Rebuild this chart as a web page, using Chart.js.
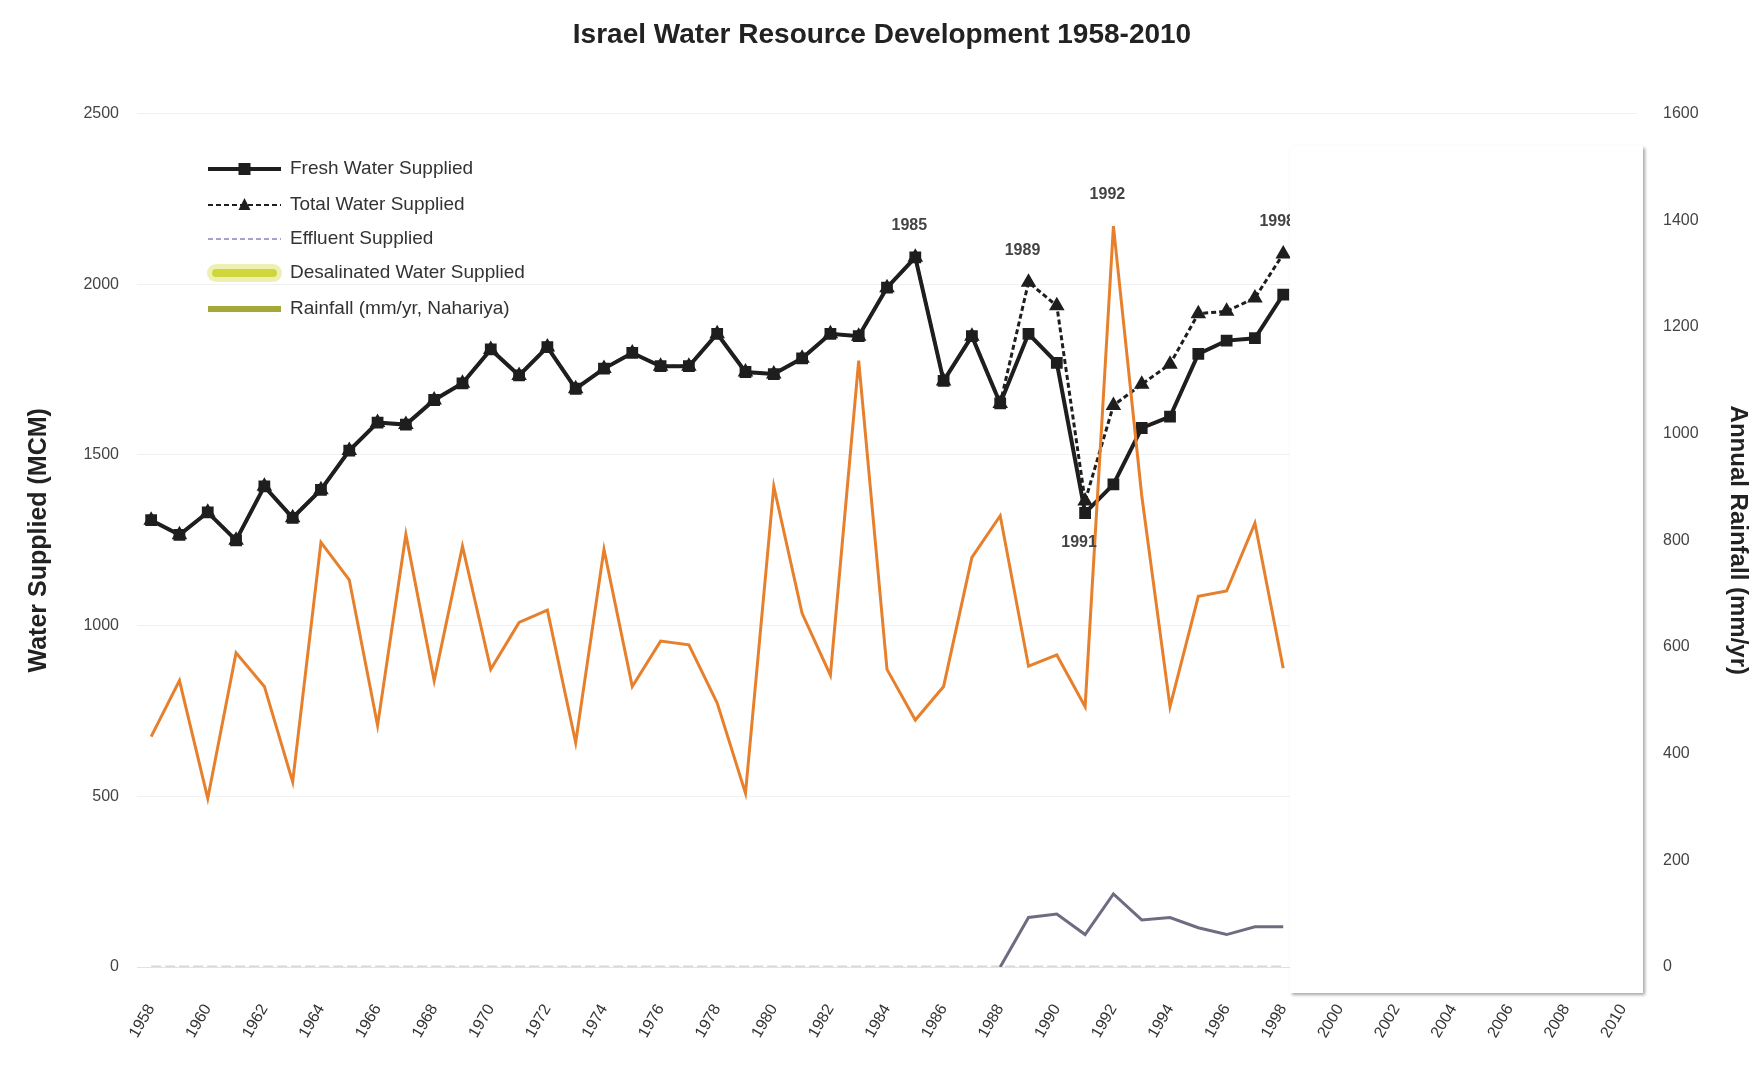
<!DOCTYPE html>
<html>
<head>
<meta charset="utf-8">
<script src="https://cdn.jsdelivr.net/npm/chart.js@4.4.1/dist/chart.umd.min.js"></script>
<style>
  html, body { margin: 0; padding: 0; background: #fff; }
  #wrap { position: relative; width: 1764px; height: 1068px; }
  /* blank box pasted over the right part of the original picture */
  #mask { position: absolute; left: 1290px; top: 146px; width: 353px; height: 847px;
          background: #fff; box-shadow: 2px 2px 3px rgba(0,0,0,0.35); }
</style>
</head>
<body>
<div id="wrap">
  <canvas id="chart" width="1764" height="1068"></canvas>
  <div id="mask"></div>
</div>
<script>
// categories
var years = [1958, 1959, 1960, 1961, 1962, 1963, 1964, 1965, 1966, 1967,
             1968, 1969, 1970, 1971, 1972, 1973, 1974, 1975, 1976, 1977,
             1978, 1979, 1980, 1981, 1982, 1983, 1984, 1985, 1986, 1987,
             1988, 1989, 1990, 1991, 1992, 1993, 1994, 1995, 1996, 1997,
             1998, 1999, 2000, 2001, 2002, 2003, 2004, 2005, 2006, 2007,
             2008, 2009, 2010];

// water supplied, MCM (left axis) - values after 1998 are hidden in the picture
var freshWater = [1309, 1266, 1332, 1250, 1408, 1316, 1398, 1513, 1595, 1589,
                  1661, 1710, 1809, 1733, 1816, 1694, 1753, 1799, 1760, 1760,
                  1855, 1743, 1737, 1783, 1855, 1848, 1990, 2079, 1717, 1848,
                  1651, 1855, 1770, 1330, 1414, 1579, 1612, 1796, 1835, 1842,
                  1970, null, null, null, null, null, null, null, null, null,
                  null, null, null];
var totalWater = [1309, 1266, 1332, 1250, 1408, 1316, 1398, 1513, 1595, 1589,
                  1661, 1710, 1809, 1733, 1816, 1694, 1753, 1799, 1760, 1760,
                  1855, 1743, 1737, 1783, 1855, 1848, 1990, 2079, 1717, 1848,
                  1651, 2006, 1937, 1365, 1645, 1707, 1766, 1914, 1921, 1960,
                  2089, null, null, null, null, null, null, null, null, null,
                  null, null, null];
var effluent = [null, null, null, null, null, null, null, null, null, null,
                null, null, null, null, null, null, null, null, null, null,
                null, null, null, null, null, null, null, null, null, null,
                0, 145, 155, 95, 214, 138, 145, 115, 95, 118,
                118, null, null, null, null, null, null, null, null, null,
                null, null, null];
var desalinated = [0, 0, 0, 0, 0, 0, 0, 0, 0, 0,
                   0, 0, 0, 0, 0, 0, 0, 0, 0, 0,
                   0, 0, 0, 0, 0, 0, 0, 0, 0, 0,
                   0, 0, 0, 0, 0, 0, 0, 0, 0, 0,
                   0, null, null, null, null, null, null, null, null, null,
                   null, null, null];
// rainfall, mm/yr (right axis)
var rainfall = [432, 537, 316, 589, 526, 347, 796, 726, 453, 811,
                537, 789, 558, 646, 669, 421, 783, 526, 611, 604,
                495, 326, 901, 663, 547, 1137, 558, 463, 526, 768,
                846, 564, 585, 488, 1389, 884, 488, 695, 705, 832,
                560, null, null, null, null, null, null, null, null, null,
                null, null, null];

var leftTicks = [0, 2500, 500];   // min, max, step
var rightTicks = [0, 1600, 200];

// year labels written next to some points: series, year, above/below
var callouts = [
  ['fresh', 1985, 'above'],
  ['total', 1989, 'above'],
  ['fresh', 1991, 'below'],
  ['rain', 1992, 'above'],
  ['total', 1998, 'above']
];

var FONT = "'Liberation Sans', Arial, sans-serif";

var legendPlugin = {
  id: 'insideLegend',
  afterDraw: function(chart) {
    var ctx = chart.ctx;
    var x0 = 208, len = 73, tx = 290;
    var rowsY = [169, 205, 239, 273, 309];
    chart.data.datasets.forEach(function(ds) {
      var y = rowsY[ds.legendRow];
      ctx.save();
      ctx.lineCap = 'butt';
      if (ds.key === 'fresh') {
        ctx.strokeStyle = '#1e1e1e'; ctx.lineWidth = 4;
        ctx.beginPath(); ctx.moveTo(x0, y); ctx.lineTo(x0 + len, y); ctx.stroke();
        ctx.fillStyle = '#1e1e1e'; ctx.fillRect(x0 + len / 2 - 6, y - 6, 12, 12);
      } else if (ds.key === 'total') {
        ctx.strokeStyle = '#1e1e1e'; ctx.lineWidth = 2; ctx.setLineDash([5, 3]);
        ctx.beginPath(); ctx.moveTo(x0, y); ctx.lineTo(x0 + len, y); ctx.stroke();
        ctx.setLineDash([]);
        ctx.fillStyle = '#1e1e1e';
        ctx.beginPath(); ctx.moveTo(x0 + len / 2, y - 7); ctx.lineTo(x0 + len / 2 + 6, y + 5);
        ctx.lineTo(x0 + len / 2 - 6, y + 5); ctx.closePath(); ctx.fill();
      } else if (ds.key === 'effluent') {
        ctx.strokeStyle = '#a7a2cc'; ctx.lineWidth = 2; ctx.setLineDash([5, 3]);
        ctx.beginPath(); ctx.moveTo(x0, y); ctx.lineTo(x0 + len, y); ctx.stroke();
      } else if (ds.key === 'desal') {
        ctx.strokeStyle = 'rgba(214,222,80,0.45)'; ctx.lineWidth = 18; ctx.lineCap = 'round';
        ctx.beginPath(); ctx.moveTo(x0 + 8, y); ctx.lineTo(x0 + len - 8, y); ctx.stroke();
        ctx.strokeStyle = '#cfd63c'; ctx.lineWidth = 8;
        ctx.beginPath(); ctx.moveTo(x0 + 8, y); ctx.lineTo(x0 + len - 8, y); ctx.stroke();
      } else if (ds.key === 'rain') {
        ctx.strokeStyle = '#a3a838'; ctx.lineWidth = 6;
        ctx.beginPath(); ctx.moveTo(x0, y); ctx.lineTo(x0 + len, y); ctx.stroke();
      }
      ctx.fillStyle = '#333';
      ctx.font = '19px ' + FONT;
      ctx.textBaseline = 'middle';
      ctx.textAlign = 'left';
      ctx.fillText(ds.label, tx, y);
      ctx.restore();
    });
  }
};

var calloutPlugin = {
  id: 'callouts',
  afterDatasetsDraw: function(chart) {
    var ctx = chart.ctx;
    ctx.save();
    ctx.font = 'bold 16px ' + FONT;
    ctx.fillStyle = '#444';
    ctx.textAlign = 'center';
    ctx.textBaseline = 'middle';
    callouts.forEach(function(c) {
      var idx = chart.data.datasets.findIndex(function(d) { return d.key === c[0]; });
      var el = chart.getDatasetMeta(idx).data[years.indexOf(c[1])];
      var dy = c[2] === 'above' ? -32 : 30;
      ctx.fillText(String(c[1]), el.x - 6, el.y + dy);
    });
    ctx.restore();
  }
};

new Chart(document.getElementById('chart').getContext('2d'), {
  type: 'line',
  data: {
    labels: years,
    datasets: [
      {
        key: 'rain', legendRow: 4, label: 'Rainfall (mm/yr, Nahariya)',
        data: rainfall, yAxisID: 'y2',
        borderColor: '#e6802c', borderWidth: 3, pointRadius: 0, tension: 0
      },
      {
        key: 'fresh', legendRow: 0, label: 'Fresh Water Supplied',
        data: freshWater, yAxisID: 'y',
        borderColor: '#1e1e1e', backgroundColor: '#1e1e1e', borderWidth: 4,
        pointStyle: 'rect', pointRadius: 5.5, tension: 0
      },
      {
        key: 'total', legendRow: 1, label: 'Total Water Supplied',
        data: totalWater, yAxisID: 'y',
        borderColor: '#1e1e1e', backgroundColor: '#1e1e1e', borderWidth: 3,
        borderDash: [5, 3], pointStyle: 'triangle', pointRadius: 6, tension: 0
      },
      {
        key: 'effluent', legendRow: 2, label: 'Effluent Supplied',
        data: effluent, yAxisID: 'y',
        borderColor: '#6f6c82', borderWidth: 3, pointRadius: 0, tension: 0
      },
      {
        key: 'desal', legendRow: 3, label: 'Desalinated Water Supplied',
        data: desalinated, yAxisID: 'y',
        borderColor: 'rgba(190,190,190,0.6)', borderWidth: 3, borderDash: [10, 4],
        pointRadius: 0, tension: 0
      }
    ]
  },
  options: {
    responsive: false,
    animation: false,
    devicePixelRatio: 1,
    layout: { padding: 0 },
    plugins: {
      legend: { display: false },
      tooltip: { enabled: false },
      title: {
        display: true,
        text: 'Israel Water Resource Development 1958-2010',
        color: '#222',
        font: { family: FONT, size: 28, weight: 'bold' },
        padding: { top: 18, bottom: 62 }
      }
    },
    scales: {
      x: {
        type: 'category',
        offset: true,
        grid: { display: false, drawTicks: false },
        border: { color: '#e2e2e2' },
        ticks: {
          autoSkip: false, minRotation: 60, maxRotation: 60, padding: 34,
          color: '#333', font: { family: FONT, size: 16 },
          callback: function(v, i) { return i % 2 === 0 ? String(years[i]) : ''; }
        },
        afterFit: function(s) { s.height = 101; }
      },
      y: {
        position: 'left',
        min: leftTicks[0], max: leftTicks[1],
        grid: { color: '#f1f1f1', drawTicks: false },
        border: { display: false },
        ticks: {
          stepSize: leftTicks[2], padding: 18, color: '#444', font: { family: FONT, size: 16 },
          callback: function(v) { return String(v); }
        },
        title: {
          display: true, text: 'Water Supplied (MCM)', color: '#222',
          font: { family: FONT, size: 25, weight: 'bold' }, padding: { top: 24, bottom: 0 }
        },
        afterFit: function(s) { s.width = 137; }
      },
      y2: {
        position: 'right',
        min: rightTicks[0], max: rightTicks[1],
        grid: { display: false, drawTicks: false },
        border: { display: false },
        ticks: {
          stepSize: rightTicks[2], padding: 26, color: '#444', font: { family: FONT, size: 16 },
          callback: function(v) { return String(v); }
        },
        title: {
          display: true, text: 'Annual Rainfall (mm/yr)', color: '#222',
          font: { family: FONT, size: 24, weight: 'bold' }, padding: { top: 12, bottom: 0 }
        },
        afterFit: function(s) { s.width = 127; }
      }
    }
  },
  plugins: [legendPlugin, calloutPlugin]
});
</script>
</body>
</html>
